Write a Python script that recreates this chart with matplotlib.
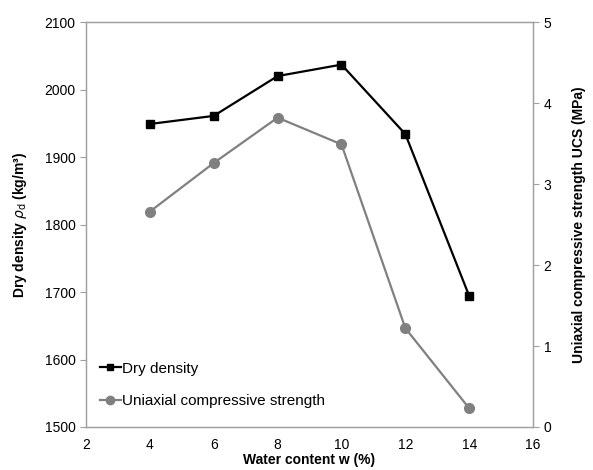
import matplotlib
matplotlib.use("Agg")
import matplotlib.pyplot as plt
from matplotlib.lines import Line2D

plt.rcParams['font.family'] = ['Liberation Sans', 'DejaVu Sans']

water = [4, 6, 8, 10, 12, 14]
dry_density = [1949, 1961, 2020, 2037, 1934, 1694]
ucs = [2.66, 3.26, 3.82, 3.49, 1.22, 0.23]

x_ticks = [2, 4, 6, 8, 10, 12, 14, 16]
left_ticks = [1500, 1600, 1700, 1800, 1900, 2000, 2100]
right_ticks = [0, 1, 2, 3, 4, 5]

fig = plt.figure(figsize=(5.93, 4.70), dpi=100)
ax = fig.add_axes([0.145, 0.0915, 0.754, 0.8615])
ax2 = ax.twinx()

l1, = ax.plot(water, dry_density, color='black', marker='s', markersize=6, linewidth=1.6)
l2, = ax2.plot(water, ucs, color='#808080', marker='o', markersize=7, linewidth=1.6)

ax.set_xlim(2, 16)
ax.set_ylim(1500, 2100)
ax2.set_ylim(0, 5)
ax.set_xticks(x_ticks)
ax.set_yticks(left_ticks)
ax2.set_yticks(right_ticks)

spine_col = '#a0a0a0'
for a in (ax, ax2):
    for s in a.spines.values():
        s.set_color(spine_col)
        s.set_linewidth(0.9)
    a.tick_params(colors='black', labelsize=10, length=4, width=0.8)
    a.tick_params(axis='both', color=spine_col)
ax.tick_params(axis='x', length=0, pad=8)

ax.set_xlabel('Water content w (%)', fontsize=10, fontweight='bold', labelpad=1)
ax.set_ylabel(r'Dry density $\rho_\mathrm{d}$ (kg/m³)', fontsize=10, fontweight='bold', labelpad=11)
ax2.set_ylabel('Uniaxial compressive strength UCS (MPa)', fontsize=10, fontweight='bold', labelpad=15)

h1 = Line2D([], [], color='black', marker='s', markersize=5, linewidth=1.6)
h2 = Line2D([], [], color='#808080', marker='o', markersize=6, linewidth=1.6)
ax.legend([h1, h2], ['Dry density', 'Uniaxial compressive strength'],
          loc='lower left', bbox_to_anchor=(0.0, 0.013), frameon=False,
          fontsize=11, handlelength=1.4, handletextpad=0.05, labelspacing=1.2)

fig.savefig('out.png', dpi=100)
